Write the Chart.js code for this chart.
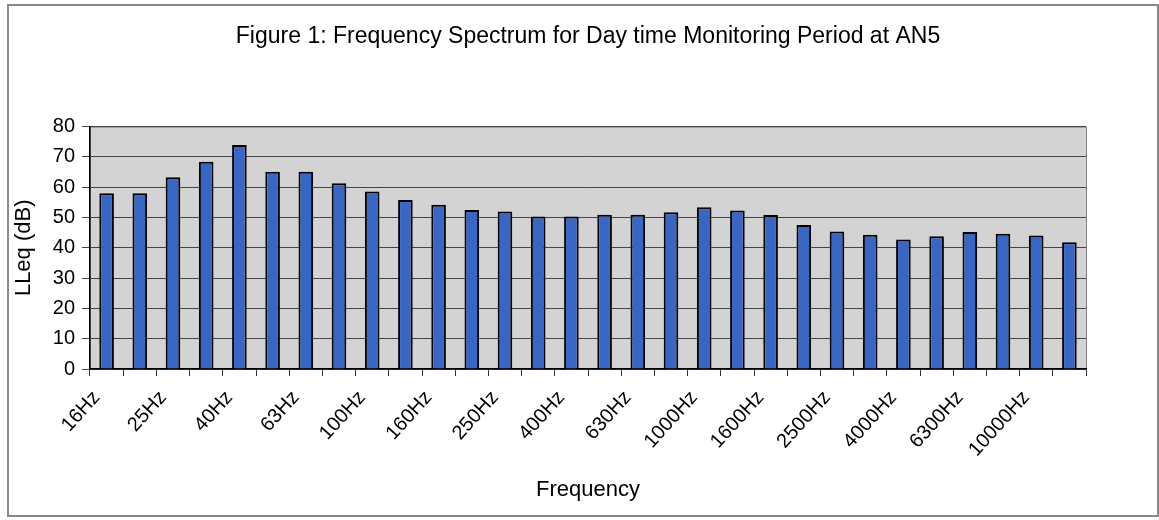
<!DOCTYPE html>
<html>
<head>
<meta charset="utf-8">
<script src="https://cdn.jsdelivr.net/npm/chart.js@4.4.1/dist/chart.umd.min.js"></script>
<style>
  body { margin: 0; background: #fff; }
  #wrap { width: 1159px; height: 520px; position: relative; }
</style>
</head>
<body>
<div id="wrap"><canvas id="specChart" width="1159" height="520"></canvas></div>
<script>
// 1/3 octave bands, day time at AN5
var bands = ['16Hz','20Hz','25Hz','31.5Hz','40Hz','50Hz','63Hz','80Hz','100Hz','125Hz',
  '160Hz','200Hz','250Hz','315Hz','400Hz','500Hz','630Hz','800Hz','1000Hz','1250Hz',
  '1600Hz','2000Hz','2500Hz','3150Hz','4000Hz','5000Hz','6300Hz','8000Hz','10000Hz','12500Hz'];
var lleq = [58, 58, 63.3, 68.4, 73.9, 65.1, 65.1, 61.3, 58.6, 55.8,
  54.2, 52.5, 52, 50.3, 50.3, 50.9, 50.9, 51.7, 53.4, 52.3,
  50.8, 47.5, 45.4, 44.3, 42.7, 43.8, 45.2, 44.6, 44.1, 41.8];
// only every other band gets a label on the axis
var shownTicks = ['16Hz','25Hz','40Hz','63Hz','100Hz','160Hz','250Hz','400Hz',
  '630Hz','1000Hz','1600Hz','2500Hz','4000Hz','6300Hz','10000Hz'];
var yMin = 0, yMax = 80, yStep = 10;

var FONT = "'Liberation Sans', Arial, sans-serif";

var framePlugin = {
  id: 'frame',
  beforeDraw: function(chart){
    var ctx = chart.ctx, a = chart.chartArea;
    ctx.save();
    ctx.fillStyle = '#fff';
    ctx.fillRect(0, 0, chart.width, chart.height);
    // outer border of the figure
    ctx.strokeStyle = '#8a8a8a';
    ctx.lineWidth = 2;
    ctx.strokeRect(8, 5, 1150, 511);
    // plot area
    ctx.fillStyle = '#d3d3d3';
    ctx.fillRect(a.left, a.top, a.right - a.left, a.bottom - a.top);
    ctx.strokeStyle = '#808080';
    ctx.lineWidth = 1;
    ctx.strokeRect(a.left + 0.5, a.top + 0.5, a.right - a.left, a.bottom - a.top);
    ctx.restore();
  }
};

var ctx = document.getElementById('specChart');
var specChart = new Chart(ctx, {
  type: 'bar',
  data: {
    labels: bands,
    datasets: [{
      data: lleq,
      backgroundColor: '#3866c4',
      borderColor: '#000',
      borderWidth: 2,
      barPercentage: 0.44,
      categoryPercentage: 1
    }]
  },
  options: {
    responsive: false,
    animation: false,
    layout: { padding: { left: 10, right: 73, top: 0, bottom: 0 } },
    plugins: {
      legend: { display: false },
      tooltip: { enabled: false },
      title: {
        display: true,
        fullSize: false,
        text: 'Figure 1: Frequency Spectrum for Day time Monitoring Period at AN5',
        color: '#000',
        font: { family: FONT, size: 23, weight: 'normal' },
        padding: { top: 23, bottom: 76 }
      }
    },
    scales: {
      x: {
        offset: true,
        afterFit: function(s){ s.height = 151; },
        grid: { display: true, offset: true, drawOnChartArea: false, tickLength: 7, color: '#333' },
        border: { display: true, color: '#000', width: 1.5 },
        ticks: {
          autoSkip: false,
          minRotation: 48,
          maxRotation: 48,
          padding: 10,
          labelOffset: -10,
          color: '#000',
          font: { family: FONT, size: 20 },
          callback: function(v, i){
            var b = bands[i];
            return shownTicks.indexOf(b) >= 0 ? b : '';
          }
        },
        title: {
          display: true,
          text: 'Frequency',
          color: '#000',
          font: { family: FONT, size: 22 },
          padding: { top: 0, bottom: 17 }
        }
      },
      y: {
        min: yMin,
        max: yMax,
        afterFit: function(s){ s.width = 80; },
        grid: { color: '#444', lineWidth: 1, tickLength: 8 },
        border: { display: true, color: '#000', width: 1.5 },
        ticks: {
          stepSize: yStep,
          padding: 7,
          color: '#000',
          font: { family: FONT, size: 20 }
        },
        title: {
          display: true,
          text: 'LLeq (dB)',
          color: '#000',
          font: { family: FONT, size: 22 },
          padding: { top: 1, bottom: 0 }
        }
      }
    }
  },
  plugins: [framePlugin]
});
</script>
</body>
</html>
